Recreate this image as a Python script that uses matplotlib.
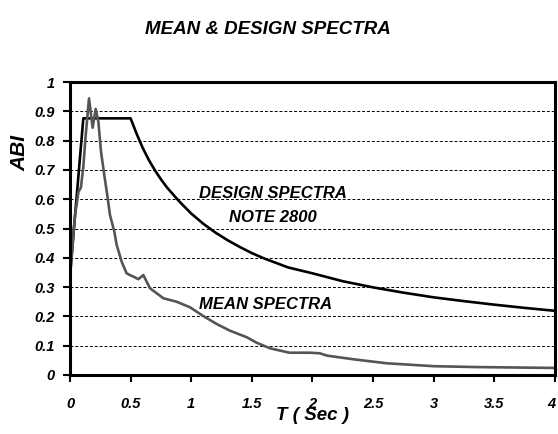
import numpy as np
import matplotlib.pyplot as plt

# design spectrum (Note 2800)
design_T = [0.0, 0.11, 0.5, 0.55, 0.6, 0.65, 0.7, 0.75, 0.8, 0.9, 1.0, 1.1, 1.2,
            1.3, 1.4, 1.5, 1.6, 1.8, 2.0, 2.25, 2.5, 2.75, 3.0, 3.25, 3.5, 3.75, 4.0]
design_A = [0.34, 0.876, 0.876, 0.823, 0.775, 0.734, 0.699, 0.668, 0.640, 0.593,
            0.551, 0.516, 0.486, 0.460, 0.437, 0.416, 0.398, 0.367, 0.347, 0.320,
            0.299, 0.281, 0.265, 0.252, 0.240, 0.229, 0.219]

# mean spectrum
mean_T = [0.0, 0.04, 0.07, 0.09, 0.11, 0.13, 0.157, 0.187, 0.212, 0.234, 0.256,
          0.283, 0.311, 0.33, 0.366, 0.385, 0.426, 0.467, 0.495, 0.522, 0.564,
          0.605, 0.66, 0.77, 0.88, 0.99, 1.10, 1.21, 1.32, 1.457, 1.54, 1.65,
          1.81, 1.98, 2.06, 2.12, 2.33, 2.61, 3.0, 3.35, 4.0]
mean_A = [0.33, 0.54, 0.625, 0.64, 0.71, 0.82, 0.944, 0.844, 0.908, 0.865, 0.762,
          0.683, 0.604, 0.546, 0.489, 0.444, 0.387, 0.347, 0.341, 0.336, 0.327,
          0.341, 0.296, 0.262, 0.25, 0.231, 0.201, 0.174, 0.151, 0.129, 0.11, 0.091,
          0.076, 0.076, 0.074, 0.066, 0.054, 0.04, 0.03, 0.027, 0.024]

x_ticks = [0, 0.5, 1, 1.5, 2, 2.5, 3, 3.5, 4]
x_labels = ['0', '0.5', '1', '1.5', '2', '2.5', '3', '3.5', '4']
y_ticks = [0, 0.1, 0.2, 0.3, 0.4, 0.5, 0.6, 0.7, 0.8, 0.9, 1]
y_labels = ['0', '0.1', '0.2', '0.3', '0.4', '0.5', '0.6', '0.7', '0.8', '0.9', '1']

plt.rcParams['font.family'] = ['Liberation Sans', 'DejaVu Sans']

fig = plt.figure(figsize=(5.58, 4.34), dpi=100)
ax = fig.add_axes([0.1254, 0.136, 0.8692, 0.675])

ax.plot(design_T, design_A, color='black', lw=1.9, solid_joinstyle='round')
ax.plot(mean_T, mean_A, color='#555555', lw=1.9, solid_joinstyle='round')

ax.set_xlim(0, 4)
ax.set_ylim(0, 1)
ax.set_xticks(x_ticks)
ax.set_xticklabels(x_labels)
ax.set_yticks(y_ticks)
ax.set_yticklabels(y_labels)
ax.yaxis.grid(True, linestyle=(0, (3, 2)), color='black', lw=0.7)
ax.set_axisbelow(True)
for s in ax.spines.values():
    s.set_linewidth(2.2)
ax.tick_params(direction='out', length=5, width=1.5, labelsize=10.5)
ax.tick_params(axis='x', pad=11)
ax.tick_params(axis='y', pad=6)
for lab in ax.get_xticklabels() + ax.get_yticklabels():
    lab.set_fontweight('bold')
    lab.set_fontstyle('italic')
ax.get_xticklabels()[-1].set_horizontalalignment('right')

ax.set_xlabel('T ( Sec )', fontsize=13.5, fontweight='bold', fontstyle='italic')
ax.xaxis.set_label_coords(0.5, -0.11)

# y label sits high on the left, as in the original
fig.text(20 / 558, 1 - 153 / 434, 'ABI', rotation=90, ha='center', va='center',
         fontsize=15, fontweight='bold', fontstyle='italic')

fig.text(0.48, 0.931, 'MEAN & DESIGN SPECTRA', ha='center', va='center',
         fontsize=13.5, fontweight='bold', fontstyle='italic')

ax.text(1.67, 0.62, 'DESIGN SPECTRA', ha='center', va='center',
        fontsize=12, fontweight='bold', fontstyle='italic')
ax.text(1.67, 0.536, 'NOTE 2800', ha='center', va='center',
        fontsize=12, fontweight='bold', fontstyle='italic')
ax.text(1.61, 0.24, 'MEAN SPECTRA', ha='center', va='center',
        fontsize=12, fontweight='bold', fontstyle='italic')

fig.savefig('out.png', dpi=100)
